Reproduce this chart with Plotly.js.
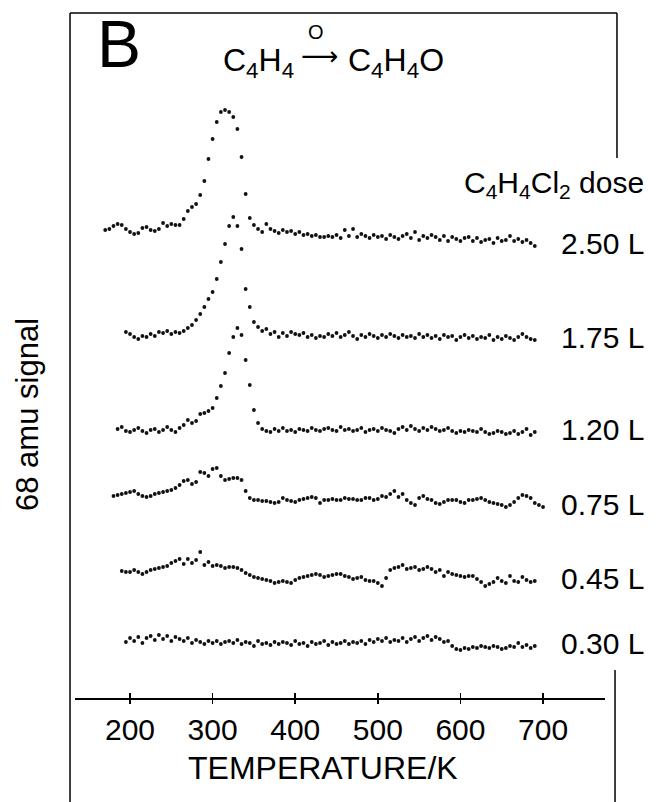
<!DOCTYPE html>
<html><head><meta charset="utf-8">
<script src="https://cdn.plot.ly/plotly-3.0.1.min.js"></script>
<style>html,body{margin:0;padding:0;background:#fff}</style>
</head><body><div id="chart" style="width:657px;height:802px"></div>
<script>
// ---- data ----
const doses = ['2.50 L', '1.75 L', '1.20 L', '0.75 L', '0.45 L', '0.30 L'];
const startTemps = [170, 195, 185, 180, 190, 195];   // K, first sample of each trace
const stepTemp = 5;                                  // K between samples
const stackOffsets = [466, 364, 268, 198, 120, 54];  // vertical offset of each trace (signal units)
const tickTemps = [200, 300, 400, 500, 600, 700];

const sig250 = [2,3,6,8,7,3,0,-2,-1,4, 5,2,1,3,9,6,8,7,7,13, 21,25,28,37,51,73,93,110,120,122,
  120,115,103,75,38,14,7,3,0,8, 3,1,-1,2,0,
  1,-2,0,-3,-2,-4,-3,-5,-5,-4, -5,-3,-6,2,-4,3,-5,-2,-4,-6, -3,-5,-4,-7,-3,-5,-7,-4,-2,-6,
  0,-8,-4,-6,-3,-5,-8,-4,-9,-5, -7,-9,-6,-5,-9,-6,-10,-8,-7,-11, -6,-9,-8,-4,-9,-7,-10,-8,-11,-14];
const sig175 = [2,0,-3,-5,-2,-3,0,-2,2,1, 3,0,2,1,3,6,9,14,20,27, 35,42,55,72,90,108,117,108,85,45,
  27,12,7,3,5,
  0,2,-3,1,-2,2,0,-1,1,-3, -1,-4,-2,-3,0,-2,1,-3,-1,2, -2,-5,-1,-3,0,-2,-4,-1,-3,0,
  -2,-4,-1,-3,-2,-4,0,-3,-1,-4, -2,-5,-1,-3,-2,-6,-3,-1,-4,-2, -5,-3,-4,-1,-6,-3,-5,-2,-4,-6,
  -3,0,-3,-5,-6];
const sig120 = [1,3,-1,-2,0,2,-1,-3,0,1, -2,0,3,0,-2,2,5,10,7,9, 16,17,19,22,32,44,57,77,93,102,
  95,70,45,20,7,1,-1,
  -2,1,-1,2,-1,0,-2,1,0,-1, 2,0,-1,1,2,0,-1,3,0,1, -1,0,2,-2,0,1,-1,2,0,-1,
  -3,1,3,0,4,1,-1,2,0,3, 1,-1,0,2,-1,-3,-1,-2,0,-1, -2,1,-2,-4,-3,-1,-2,-4,-3,-1,
  -4,-2,1,-5,-2];
const sig075 = [4,5,6,7,8,9,6,4,3,4, 6,7,8,9,10,12,15,19,20,16, 18,28,27,24,31,32,24,20,21,22,
  22,20,9,2,0,0,-1,-1,
  -2,-3,-2,2,0,-1,-2,0,1,2, 3,2,-3,0,0,1,0,0,2,1, 1,0,0,2,2,0,1,4,3,6,
  9,3,6,0,-3,-5,2,4,1,0, -3,-4,-2,0,0,0,-2,-3,0,0, 1,2,0,-2,-3,-4,-5,-7,-5,-2,
  2,5,4,2,-3,-5,-7];
const sig045 = [7,6,6,8,6,4,6,8,9,10, 11,12,15,17,19,14,19,15,18,26, 13,16,12,13,12,10,11,11,10,8,
  5,3,1,0,-1,-2,-3,-5,-4,-3, -4,-5,-2,0,1,2,3,4,3,1, 2,3,4,4,2,1,-1,0,1,-2,
  -3,-3,-5,-8,0,8,10,11,13,9, 10,11,8,9,11,9,6,8,2,6, 4,3,2,1,2,2,-1,-4,-8,-6,
  -4,0,-3,-5,2,-3,-4,1,-2,-4, -3];
const sig030 = [2,6,3,7,1,6,8,4,9,5, 8,3,7,5,3,6,1,4,2,0, 3,1,3,0,2,3,1,4,0,2,
  1,-2,3,0,1,-1,2,0,2,1, -1,3,0,1,-2,2,0,1,3,-1, 2,0,1,3,0,2,1,3,0,4,
  2,5,3,6,2,4,3,6,2,5, 7,3,6,8,4,7,5,2,3,-2, -5,-6,-4,-5,-3,-4,-2,-3,-4,-2,
  -3,-5,-4,-2,-3,1,-3,-1,-4,-2];
const signals = [sig250, sig175, sig120, sig075, sig045, sig030];

// ---- figure ----
const FONT = 'Liberation Sans, Arial, Helvetica, sans-serif';
const traces = signals.map((s, i) => ({
  type: 'scatter', mode: 'markers',
  x0: startTemps[i], dx: stepTemp,
  y: s.map(v => v + stackOffsets[i]),
  marker: {size: 3.8, color: '#111'},
  hoverinfo: 'skip', showlegend: false
}));
// empty trace to carry the upper half of the crossing tick marks
traces.push({type: 'scatter', mode: 'markers', x: [], y: [], xaxis: 'x2', showlegend: false});

const annotations = doses.map((d, i) => ({
  xref: 'x', yref: 'y', x: 719, y: stackOffsets[i] + signals[i][signals[i].length - 1] + 3,
  text: d, showarrow: false, xanchor: 'left', yanchor: 'middle',
  font: {family: FONT, size: 30, color: '#000'}
}));
annotations.push(
  {xref: 'paper', yref: 'paper', x: 0.038, y: 0.955, text: 'B', showarrow: false,
   xanchor: 'left', yanchor: 'middle', font: {family: FONT, size: 66, color: '#000'}},
  {xref: 'paper', yref: 'paper', x: 0.275, y: 0.928, text: 'C<sub>4</sub>H<sub>4</sub>', showarrow: false,
   xanchor: 'left', yanchor: 'middle', font: {family: FONT, size: 32, color: '#000'}},
  {xref: 'paper', yref: 'paper', x: 0.462, y: 0.937, text: '⟶', showarrow: false,
   xanchor: 'center', yanchor: 'middle', font: {family: 'DejaVu Sans, sans-serif', size: 26, color: '#000'}},
  {xref: 'paper', yref: 'paper', x: 0.455, y: 0.972, text: 'O', showarrow: false,
   xanchor: 'center', yanchor: 'middle', font: {family: FONT, size: 20, color: '#000'}},
  {xref: 'paper', yref: 'paper', x: 0.512, y: 0.928, text: 'C<sub>4</sub>H<sub>4</sub>O', showarrow: false,
   xanchor: 'left', yanchor: 'middle', font: {family: FONT, size: 32, color: '#000'}},
  {xref: 'paper', yref: 'paper', x: 0.730, y: 0.749, text: 'C<sub>4</sub>H<sub>4</sub>Cl<sub>2</sub> dose', showarrow: false,
   xanchor: 'left', yanchor: 'middle', font: {family: FONT, size: 30, color: '#000'}},
  {xref: 'paper', yref: 'paper', x: -0.0887, y: 0.4146, text: '68 amu signal', showarrow: false,
   textangle: -90, xanchor: 'center', yanchor: 'middle', font: {family: FONT, size: 31, color: '#000'}},
  {xref: 'paper', yref: 'paper', x: 0.468, y: -0.102, text: 'TEMPERATURE/K', showarrow: false,
   xanchor: 'center', yanchor: 'middle', font: {family: FONT, size: 32, color: '#000'}}
);

const L = 'black';
const shapes = [
  {type: 'line', xref: 'paper', yref: 'paper', x0: -0.0094, x1: -0.0094, y0: -0.1518, y1: 1.0, line: {color: L, width: 1.5}},
  {type: 'line', xref: 'paper', yref: 'paper', x0: -0.0094, x1: 1.0226, y0: 1.0, y1: 1.0, line: {color: L, width: 1.5}},
  {type: 'line', xref: 'paper', yref: 'paper', x0: 1.0226, x1: 1.0226, y0: 1.0, y1: 0.7883, line: {color: L, width: 1.5}},
  {type: 'line', xref: 'paper', yref: 'paper', x0: 1.0189, x1: 1.0189, y0: 0.0409, y1: -0.1518, line: {color: L, width: 1.5}}
];

const layout = {
  width: 657, height: 802,
  margin: {l: 75, r: 52, t: 13, b: 104},
  paper_bgcolor: '#fff', plot_bgcolor: '#fff',
  font: {family: FONT, color: '#000'},
  showlegend: false,
  xaxis: {
    range: [133.4, 775], tickvals: tickTemps, ticktext: tickTemps.map(String),
    ticks: 'outside', ticklen: 4, tickwidth: 1.5, tickcolor: L,
    showline: true, linecolor: L, linewidth: 1.5,
    showgrid: false, zeroline: false,
    tickfont: {family: FONT, size: 30, color: '#000'}
  },
  xaxis2: {
    overlaying: 'x', matches: 'x', anchor: 'y', side: 'bottom',
    tickvals: tickTemps, ticks: 'inside', ticklen: 5, tickwidth: 1.5, tickcolor: L,
    showticklabels: false, showline: false, showgrid: false, zeroline: false
  },
  yaxis: {range: [0, 685], visible: false, fixedrange: true},
  annotations: annotations,
  shapes: shapes
};

Plotly.newPlot('chart', traces, layout, {displayModeBar: false, staticPlot: true});
</script>
</body></html>
